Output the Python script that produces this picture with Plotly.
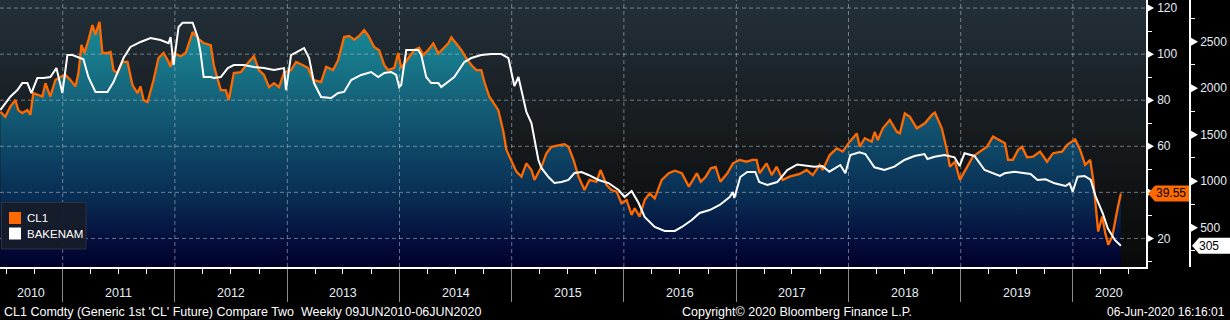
import plotly.graph_objects as go
from datetime import datetime, timedelta

# ---------------- data (decimal year, value) ----------------
cl1_t = [2010.444, 2010.488, 2010.533, 2010.578, 2010.604, 2010.640, 2010.685, 2010.712, 2010.738, 2010.774,
         2010.819, 2010.846, 2010.890, 2010.935, 2010.979, 2011.024, 2011.069, 2011.113, 2011.140, 2011.167,
         2011.194, 2011.229, 2011.265, 2011.292, 2011.328, 2011.354, 2011.399, 2011.426, 2011.453, 2011.488,
         2011.533, 2011.578, 2011.622, 2011.667, 2011.694, 2011.721, 2011.756, 2011.810, 2011.854, 2011.899,
         2011.935, 2011.962, 2011.988, 2012.051, 2012.096, 2012.158, 2012.203, 2012.256, 2012.319, 2012.346,
         2012.408, 2012.453, 2012.479, 2012.524, 2012.587, 2012.649, 2012.703, 2012.747, 2012.792, 2012.837,
         2012.881, 2012.926, 2012.971, 2013.033, 2013.078, 2013.140, 2013.185, 2013.229, 2013.301, 2013.346,
         2013.408, 2013.453, 2013.506, 2013.551, 2013.596, 2013.640, 2013.685, 2013.721, 2013.774, 2013.819,
         2013.864, 2013.899, 2013.953, 2013.988, 2014.015, 2014.078, 2014.131, 2014.176, 2014.212, 2014.256,
         2014.301, 2014.346, 2014.390, 2014.435, 2014.462, 2014.506, 2014.551, 2014.596, 2014.640, 2014.685,
         2014.729, 2014.756, 2014.801, 2014.881, 2014.926, 2014.953, 2014.997, 2015.042, 2015.087, 2015.131,
         2015.176, 2015.203, 2015.265, 2015.310, 2015.354, 2015.400, 2015.444, 2015.470, 2015.506, 2015.551,
         2015.596, 2015.649, 2015.694, 2015.756, 2015.792, 2015.846, 2015.890, 2015.935, 2015.979, 2016.024,
         2016.069, 2016.096, 2016.140, 2016.185, 2016.229, 2016.274, 2016.337, 2016.399, 2016.453, 2016.515,
         2016.578, 2016.649, 2016.684, 2016.728, 2016.773, 2016.816, 2016.858, 2016.920, 2016.970, 2017.029,
         2017.091, 2017.145, 2017.181, 2017.207, 2017.270, 2017.315, 2017.359, 2017.413, 2017.475, 2017.565,
         2017.627, 2017.681, 2017.743, 2017.770, 2017.832, 2017.895, 2017.948, 2018.011, 2018.074, 2018.100,
         2018.145, 2018.207, 2018.234, 2018.261, 2018.306, 2018.368, 2018.431, 2018.458, 2018.502, 2018.547,
         2018.609, 2018.681, 2018.743, 2018.770, 2018.832, 2018.877, 2018.904, 2018.949, 2018.993, 2019.056,
         2019.109, 2019.172, 2019.234, 2019.288, 2019.350, 2019.395, 2019.422, 2019.466, 2019.511, 2019.547,
         2019.591, 2019.645, 2019.707, 2019.770, 2019.824, 2019.904, 2019.949, 2020.020, 2020.065, 2020.109,
         2020.154, 2020.181, 2020.225, 2020.261, 2020.288, 2020.315, 2020.350, 2020.377, 2020.400, 2020.427]
cl1_v = [75.0, 72.8, 77.2, 80.1, 75.7, 74.4, 75.7, 73.6, 83.1, 82.3,
         81.6, 87.4, 81.6, 88.8, 90.1, 91.0, 88.8, 86.0, 91.7, 104.0,
         100.5, 106.1, 112.6, 108.5, 114.0, 100.5, 100.5, 101.0, 93.1, 91.7,
         96.6, 96.6, 86.6, 83.1, 86.0, 80.1, 79.2, 88.8, 98.3, 100.5,
         97.5, 94.5, 100.5, 99.1, 100.5, 109.6, 107.0, 104.8, 103.9, 95.2,
         84.4, 84.4, 80.1, 91.8, 92.2, 96.2, 99.1, 93.1, 91.0, 85.7,
         87.4, 85.7, 92.0, 93.1, 96.6, 95.2, 94.0, 88.8, 87.9, 94.5,
         93.1, 97.5, 107.4, 107.9, 106.3, 107.9, 110.4, 108.1, 103.1, 101.7,
         95.2, 93.1, 94.0, 100.5, 94.0, 98.2, 101.8, 102.8, 99.6, 101.8,
         104.7, 100.3, 102.5, 104.7, 107.3, 104.7, 101.8, 98.2, 95.3, 93.1,
         93.1, 88.0, 81.5, 75.7, 66.3, 58.4, 54.1, 49.0, 46.8, 52.6,
         49.7, 45.4, 51.1, 57.0, 59.8, 60.2, 60.6, 60.9, 59.8, 54.1,
         46.8, 41.0, 45.4, 44.6, 49.7, 43.2, 41.0, 40.3, 35.3, 36.7,
         30.2, 33.1, 29.5, 36.7, 39.6, 37.4, 45.4, 48.3, 49.4, 48.3,
         42.5, 48.3, 44.6, 46.8, 50.5, 51.1, 44.6, 48.3, 52.6, 54.1,
         53.3, 54.1, 54.1, 48.3, 52.6, 47.5, 51.1, 45.4, 46.8, 48.0,
         49.7, 47.5, 51.9, 49.7, 56.2, 59.1, 57.7, 62.0, 65.6, 59.8,
         63.5, 62.0, 66.3, 62.7, 67.8, 71.4, 66.3, 65.6, 74.3, 72.8,
         67.8, 70.0, 73.6, 74.6, 67.8, 58.4, 51.1, 53.3, 45.4, 51.1,
         55.5, 57.7, 59.8, 64.2, 62.7, 61.3, 54.1, 54.1, 58.4, 59.8,
         55.2, 55.5, 57.7, 53.3, 57.0, 57.7, 60.6, 63.0, 58.4, 51.9,
         54.1, 45.4, 23.0, 29.5, 22.3, 17.2, 20.8, 28.0, 33.5, 39.55]

bak_t = [2010.444, 2010.488, 2010.533, 2010.596, 2010.640, 2010.685, 2010.721, 2010.774, 2010.828, 2010.890,
         2010.944, 2010.997, 2011.042, 2011.087, 2011.131, 2011.185, 2011.229, 2011.292, 2011.336, 2011.399,
         2011.453, 2011.542, 2011.604, 2011.694, 2011.783, 2011.872, 2011.944, 2011.962, 2011.988, 2012.033,
         2012.069, 2012.113, 2012.158, 2012.203, 2012.229, 2012.256, 2012.319, 2012.346, 2012.408, 2012.471,
         2012.524, 2012.613, 2012.703, 2012.792, 2012.881, 2012.971, 2012.988, 2013.033, 2013.122, 2013.149,
         2013.194, 2013.238, 2013.301, 2013.390, 2013.453, 2013.506, 2013.569, 2013.658, 2013.747, 2013.810,
         2013.864, 2013.926, 2013.970, 2013.997, 2014.015, 2014.060, 2014.104, 2014.167, 2014.194, 2014.238,
         2014.283, 2014.346, 2014.372, 2014.417, 2014.488, 2014.578, 2014.640, 2014.729, 2014.819, 2014.908,
         2014.971, 2014.997, 2015.024, 2015.060, 2015.087, 2015.131, 2015.176, 2015.203, 2015.238, 2015.265,
         2015.328, 2015.381, 2015.444, 2015.506, 2015.560, 2015.622, 2015.685, 2015.774, 2015.863, 2015.953,
         2016.006, 2016.069, 2016.131, 2016.185, 2016.274, 2016.363, 2016.453, 2016.515, 2016.604, 2016.674,
         2016.763, 2016.852, 2016.941, 2016.968, 2016.982, 2017.035, 2017.097, 2017.169, 2017.204, 2017.276,
         2017.365, 2017.454, 2017.543, 2017.695, 2017.767, 2017.829, 2017.927, 2017.972, 2018.016, 2018.097,
         2018.150, 2018.231, 2018.320, 2018.409, 2018.498, 2018.588, 2018.677, 2018.704, 2018.766, 2018.856,
         2018.945, 2018.990, 2019.034, 2019.123, 2019.213, 2019.350, 2019.391, 2019.480, 2019.623, 2019.685,
         2019.757, 2019.837, 2019.935, 2019.971, 2019.998, 2020.042, 2020.105, 2020.159, 2020.203, 2020.266,
         2020.310, 2020.373, 2020.427]
bak_v = [1765, 1840, 1908, 1980, 2055, 2055, 1948, 2109, 2109, 2120,
         2216, 1948, 2356, 2356, 2335, 2310, 2120, 1960, 1960, 1960,
         2066, 2324, 2443, 2497, 2540, 2518, 2485, 2550, 2249, 2658,
         2704, 2704, 2704, 2550, 2378, 2120, 2120, 2109, 2120, 2216,
         2249, 2249, 2227, 2216, 2195, 2216, 1980, 2356, 2410, 2432,
         2324, 2055, 1905, 1894, 1948, 1960, 2088, 2142, 2174, 2120,
         2163, 2174, 2142, 2013, 2034, 2410, 2410, 2410, 2356, 2120,
         2055, 2055, 2012, 2055, 2120, 2281, 2324, 2356, 2367, 2367,
         2324, 2174, 2023, 2120, 1980, 1744, 1625, 1443, 1228, 1142,
         1045, 980, 991, 1013, 1088, 1099, 1067, 1013, 980, 905,
         830, 894, 765, 615, 508, 465, 465, 508, 583, 658,
         690, 744, 830, 884, 819, 1045, 1099, 1099, 991, 959,
         991, 1120, 1180, 1156, 1163, 1102, 1174, 1085, 1281, 1310,
         1292, 1149, 1120, 1156, 1228, 1271, 1292, 1238, 1263, 1281,
         1257, 1163, 1300, 1271, 1120, 1056, 1085, 1102, 1077, 1013,
         1020, 977, 948, 977, 887, 1048, 1056, 1013, 833, 655,
         494, 368, 305]

series_names = ["CL1", "BAKENAM"]
series_colors = ["#ff6a00", "#ffffff"]
years = list(range(2010, 2021))
y1_ticks = [20, 40, 60, 80, 100, 120]
y2_ticks = [500, 1000, 1500, 2000, 2500]
footer_left = "CL1 Comdty (Generic 1st 'CL' Future) Compare Two  Weekly 09JUN2010-06JUN2020"
footer_mid = "Copyright\u00a9 2020 Bloomberg Finance L.P."
footer_right = "06-Jun-2020 16:16:01"

# ---------------- helpers ----------------
def to_date(t):
    y = int(t)
    nd = 366 if (y % 4 == 0) else 365
    return datetime(y, 1, 1) + timedelta(days=(t - y) * nd)

cl1_x = [to_date(t) for t in cl1_t]
bak_x = [to_date(t) for t in bak_t]

W, H = 1230, 320
PW, PH = 1190, 267            # plotting area (paper) size in px
X0 = datetime(2010, 6, 11)
X1 = datetime(2020, 8, 26)
Y1R = [7.6, 123.5]
Y2R = [77.5, 2948]
FONT = "Liberation Sans"
DOM = 1146 / PW
last_cl1 = cl1_v[-1]
last_bak = bak_v[-1]

def px(xp):
    return xp / PW

def py(yp):
    return 1 - yp / PH

fig = go.Figure()

# plot background gradient
fig.add_trace(go.Scatter(
    x=[X0, X0, X1, X1, X0], y=[Y1R[0], Y1R[1], Y1R[1], Y1R[0], Y1R[0]],
    mode="lines", fill="toself", line=dict(width=0, color="rgba(0,0,0,0)"),
    fillgradient=dict(type="vertical", start=Y1R[0], stop=Y1R[1],
                      colorscale=[[0, "#090909"], [0.3, "#111314"], [0.6, "#191f23"], [1, "#23303a"]]),
    hoverinfo="skip", showlegend=False))

# CL1 area fill
fig.add_trace(go.Scatter(
    x=cl1_x, y=cl1_v, mode="lines", fill="tozeroy",
    line=dict(width=0, color="rgba(0,0,0,0)"),
    fillgradient=dict(type="vertical", start=Y1R[0], stop=Y1R[1],
                      colorscale=[[0, "#00002a"], [0.1, "#040e3c"], [0.25, "#082b52"], [0.44, "#0e4666"],
                                  [0.63, "#15627a"], [0.83, "#17808f"], [1, "#1a8e9c"]]),
    hoverinfo="skip", showlegend=False))

# grid lines (drawn above the fill)
gx, gy = [], []
for v in y1_ticks:
    gx += [X0, X1, None]
    gy += [v, v, None]
for yr in years[1:]:
    d = datetime(yr, 1, 1)
    gx += [d, d, None]
    gy += [Y1R[0], Y1R[1], None]
fig.add_trace(go.Scatter(x=gx, y=gy, mode="lines",
                         line=dict(color="rgba(185,195,205,0.55)", width=1, dash="4px,3px"),
                         hoverinfo="skip", showlegend=False))

# series lines
fig.add_trace(go.Scatter(x=cl1_x, y=cl1_v, mode="lines", name=series_names[0],
                         line=dict(color=series_colors[0], width=2.3), showlegend=False))
fig.add_trace(go.Scatter(x=bak_x, y=bak_v, mode="lines", name=series_names[1], yaxis="y2",
                         line=dict(color=series_colors[1], width=2), showlegend=False))

quarters = [datetime(y, m, 1) for y in range(2010, 2021) for m in (1, 4, 7, 10)]
y1_text = ["" if abs(v - last_cl1) < 4 else str(v) for v in y1_ticks]

fig.update_layout(
    template="none",
    width=W, height=H,
    margin=dict(l=0, r=W - PW, t=0, b=H - PH),
    paper_bgcolor="#000000", plot_bgcolor="#000000",
    font=dict(family=FONT, size=12, color="#e4ecf4"),
    showlegend=False,
    xaxis=dict(type="date", range=[X0, X1], domain=[0, DOM],
               showgrid=False, zeroline=False,
               showline=True, linecolor="#ffffff", linewidth=2,
               tickmode="array", tickvals=[datetime(y, 1, 1) for y in years[1:]],
               ticks="outside", ticklen=33, tickcolor="#8a8a8a", tickwidth=1,
               showticklabels=False,
               minor=dict(tickmode="array", tickvals=quarters, ticks="outside",
                          ticklen=5, tickcolor="#ffffff", tickwidth=1, showgrid=False)),
    yaxis=dict(range=Y1R, side="right", anchor="x", showgrid=False, zeroline=False,
               showline=True, linecolor="#ffffff", linewidth=1.5,
               tickmode="array", tickvals=y1_ticks, ticktext=y1_text,
               ticks="outside", ticklen=7, tickwidth=1, tickcolor="rgba(0,0,0,0)",
               tickfont=dict(family=FONT, size=12, color="#e4ecf4"),
               minor=dict(tickmode="linear", tick0=0, dtick=10, ticks="outside",
                          ticklen=4, tickcolor="#ffffff", showgrid=False)),
    yaxis2=dict(range=Y2R, side="right", overlaying="y", anchor="free", position=1.0,
                showgrid=False, zeroline=False,
                showline=True, linecolor="#ffffff", linewidth=1.5,
                tickmode="array", tickvals=y2_ticks,
                ticks="outside", ticklen=7, tickwidth=1, tickcolor="rgba(0,0,0,0)",
                tickfont=dict(family=FONT, size=12, color="#e4ecf4"),
                minor=dict(tickmode="linear", tick0=0, dtick=250, ticks="outside",
                           ticklen=4, tickcolor="#ffffff", showgrid=False)),
)

shapes = []
# triangular tick markers on both value axes
for v in y1_ticks:
    shapes.append(dict(type="path", xref="paper", yref="y", xsizemode="pixel", ysizemode="pixel",
                       xanchor=DOM, yanchor=v, path="M 1,-4 L 8,0 L 1,4 Z",
                       fillcolor="#ffffff", line=dict(width=0), layer="above"))
for v in y2_ticks:
    shapes.append(dict(type="path", xref="paper", yref="y2", xsizemode="pixel", ysizemode="pixel",
                       xanchor=1.0, yanchor=v, path="M 1,-4 L 8,0 L 1,4 Z",
                       fillcolor="#ffffff", line=dict(width=0), layer="above"))

# last value tags
shapes.append(dict(type="path", xref="paper", yref="y", xsizemode="pixel", ysizemode="pixel",
                   xanchor=DOM, yanchor=last_cl1,
                   path="M 2,0 L 9,8 L 43,8 L 43,-8 L 9,-8 Z",
                   fillcolor=series_colors[0], line=dict(width=0), layer="above"))
shapes.append(dict(type="path", xref="paper", yref="y2", xsizemode="pixel", ysizemode="pixel",
                   xanchor=1.0, yanchor=last_bak,
                   path="M 2,0 L 9,8 L 40,8 L 40,-8 L 9,-8 Z",
                   fillcolor=series_colors[1], line=dict(width=0), layer="above"))

# legend box with square swatches
shapes.append(dict(type="rect", xref="paper", yref="paper",
                   x0=px(1.5), x1=px(86), y0=py(249), y1=py(202.5),
                   fillcolor="rgba(22,28,42,0.96)", line=dict(color="#2c323e", width=1), layer="above"))
leg_rows = [218, 233.5]
for name, col, yc in zip(series_names, series_colors, leg_rows):
    shapes.append(dict(type="rect", xref="paper", yref="paper",
                       x0=px(9), x1=px(21), y0=py(yc + 6), y1=py(yc - 6),
                       fillcolor=col, line=dict(width=0), layer="above"))

ann = []
for name, yc in zip(series_names, leg_rows):
    ann.append(dict(x=px(25), y=py(yc), xref="paper", yref="paper", text=name, showarrow=False,
                    xanchor="left", yanchor="middle",
                    font=dict(family=FONT, size=11.5, color="#ffffff")))

# year labels centred in each visible year segment
for yr in years:
    a = max(datetime(yr, 1, 1), X0)
    b = min(datetime(yr + 1, 1, 1), X1)
    mid = a + (b - a) / 2
    ann.append(dict(x=mid, y=py(293), xref="x", yref="paper", text=str(yr),
                    showarrow=False, font=dict(family=FONT, size=12.5, color="#e4ecf4"),
                    xanchor="center", yanchor="middle"))

fy = py(312)
ann.append(dict(x=px(2), y=fy, xref="paper", yref="paper", text=footer_left, showarrow=False,
                xanchor="left", yanchor="middle", font=dict(family=FONT, size=12.5, color="#ffffff")))
ann.append(dict(x=px(797), y=fy, xref="paper", yref="paper", text=footer_mid, showarrow=False,
                xanchor="center", yanchor="middle", font=dict(family=FONT, size=12.5, color="#ffffff")))
ann.append(dict(x=px(1227), y=fy, xref="paper", yref="paper", text=footer_right, showarrow=False,
                xanchor="right", yanchor="middle", font=dict(family=FONT, size=12, color="#ffffff")))

ann.append(dict(x=px(1171), y=last_cl1, xref="paper", yref="y", text=f"{last_cl1:.2f}",
                showarrow=False, xanchor="center", yanchor="middle",
                font=dict(family=FONT, size=12, color="#000000")))
ann.append(dict(x=px(1209), y=last_bak, xref="paper", yref="y2", text=f"{last_bak:d}",
                showarrow=False, xanchor="center", yanchor="middle",
                font=dict(family=FONT, size=12, color="#000000")))

fig.update_layout(shapes=shapes, annotations=ann)
fig.write_html("out.html", config={"displayModeBar": False},
               post_script="document.body.style.margin='0';document.body.style.overflow='hidden';")
